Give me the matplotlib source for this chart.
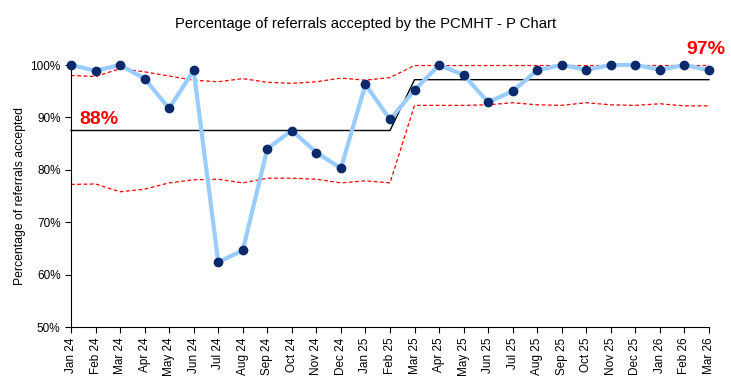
import matplotlib
matplotlib.use('Agg')
import matplotlib.pyplot as plt
from matplotlib.ticker import PercentFormatter

plt.rcParams['font.family'] = ['Liberation Sans', 'DejaVu Sans']

months = ['Jan 24', 'Feb 24', 'Mar 24', 'Apr 24', 'May 24', 'Jun 24', 'Jul 24', 'Aug 24',
          'Sep 24', 'Oct 24', 'Nov 24', 'Dec 24', 'Jan 25', 'Feb 25', 'Mar 25', 'Apr 25',
          'May 25', 'Jun 25', 'Jul 25', 'Aug 25', 'Sep 25', 'Oct 25', 'Nov 25', 'Dec 25',
          'Jan 26', 'Feb 26', 'Mar 26']

pct_accepted = [100, 98.9, 100, 97.4, 91.7, 99.0, 62.4, 64.6, 84.0, 87.5, 83.3, 80.3, 96.3, 89.6,
                95.2, 100, 98.1, 92.9, 95.0, 99.0, 100, 99.1, 100, 100, 99.1, 100, 99.0]

centre = [87.5] * 14 + [97.2] * 13

upper = [98.0, 97.8, 99.3, 98.7, 97.9, 97.1, 96.8, 97.4, 96.7, 96.5, 96.8, 97.5, 97.1, 97.6,
         99.9, 99.9, 99.9, 99.9, 99.9, 99.9, 99.9, 99.9, 99.9, 99.9, 99.9, 99.9, 99.9]

lower = [77.2, 77.3, 75.8, 76.3, 77.5, 78.1, 78.2, 77.5, 78.4, 78.4, 78.2, 77.5, 77.9, 77.5,
         92.3, 92.3, 92.3, 92.4, 92.8, 92.4, 92.3, 92.8, 92.4, 92.3, 92.6, 92.2, 92.2]

fig = plt.figure(figsize=(7.31, 3.85), dpi=100)
ax = fig.add_axes([71 / 731, 1 - 327 / 385, (709 - 71) / 731, (327 - 65) / 385])

x = list(range(len(months)))
ax.plot(x, upper, color='#ff0000', linestyle=(0, (3, 2)), linewidth=0.9, clip_on=False)
ax.plot(x, lower, color='#ff0000', linestyle=(0, (3, 2)), linewidth=0.9, clip_on=False)
ax.plot(x, centre, color='black', linewidth=1.0, clip_on=False)
ax.plot(x, pct_accepted, color='#99ccff', linewidth=3, marker='o', markersize=6,
        markerfacecolor='#0b2a6b', markeredgecolor='#0b2a6b', clip_on=False, zorder=5)

ax.text(0.35, 88.0, '88%', color='#ff0000', fontsize=14, fontweight='bold', va='bottom')
ax.text(26.65, 101.3, '97%', color='#ff0000', fontsize=14, fontweight='bold', ha='right', va='bottom')

ax.set_xlim(0, 26)
ax.set_ylim(50, 100)
ax.set_xticks(x)
ax.set_xticklabels(months, rotation=90, fontsize=8.5)
ax.set_yticks([50, 60, 70, 80, 90, 100])
ax.yaxis.set_major_formatter(PercentFormatter(decimals=0))
ax.tick_params(axis='y', labelsize=8.5, length=4)
ax.tick_params(axis='x', length=4)
ax.spines['top'].set_visible(False)
ax.spines['right'].set_visible(False)
ax.set_ylabel('Percentage of referrals accepted', fontsize=8.8)
ax.yaxis.set_label_coords(-0.07, 0.5)

fig.suptitle('Percentage of referrals accepted by the PCMHT - P Chart', fontsize=10.7, y=0.955)

fig.savefig('out.png', dpi=100)
